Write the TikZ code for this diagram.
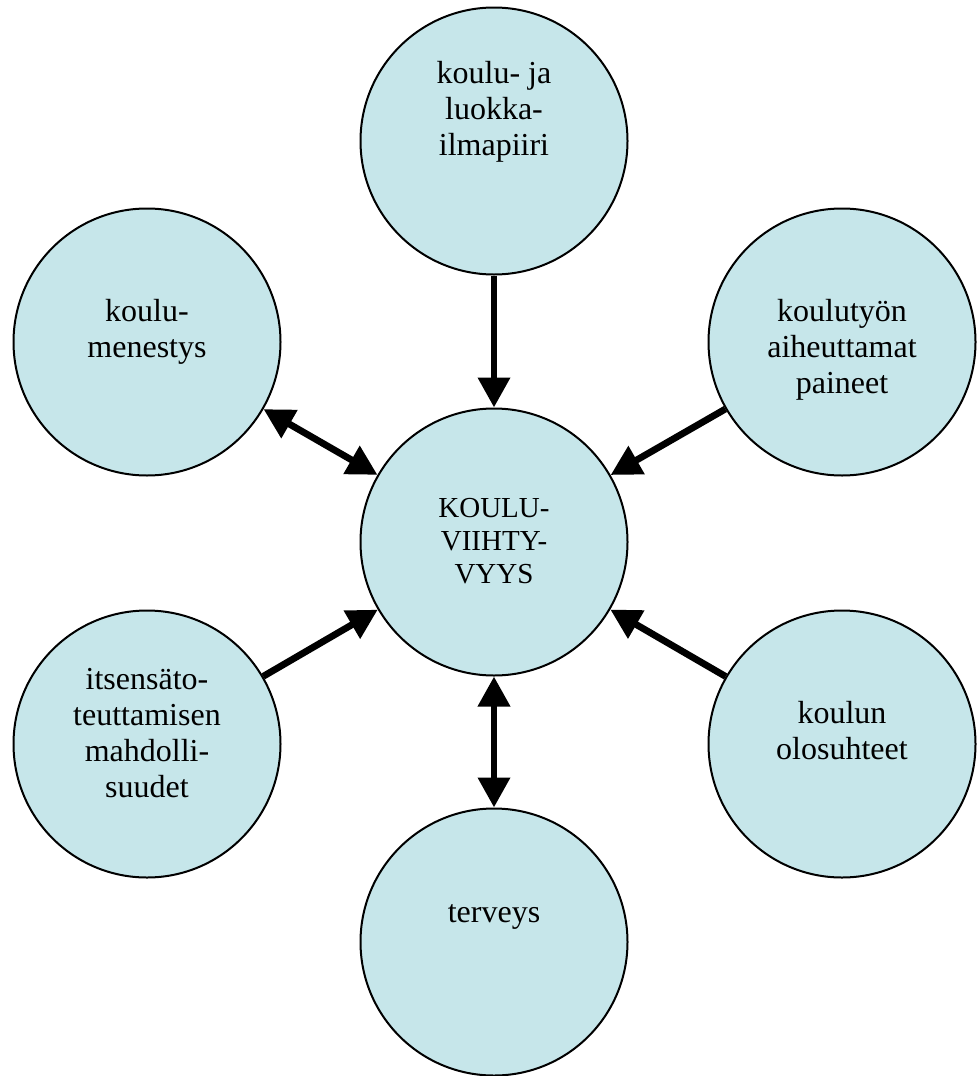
\documentclass[tikz,border=0pt]{standalone}
\usepackage{fontspec}
\setmainfont{Liberation Serif}
\usetikzlibrary{arrows.meta}
\definecolor{bubble}{RGB}{198,230,234}
\begin{document}
\begin{tikzpicture}[x=0.5pt,y=-0.5pt,
  bub/.style={circle,draw=black,line width=1pt,fill=bubble,inner sep=0pt,minimum size=133.5pt},
  lbl/.style={align=center,anchor=base,inner sep=0pt,font=\fontsize{16}{18}\selectfont},
  lblc/.style={align=center,anchor=base,inner sep=0pt,font=\fontsize{14.5}{16.5}\selectfont},
  con/.style={line width=3.4pt,-{Triangle[length=15pt,width=15.5pt]}},
  dcon/.style={line width=3.4pt,{Triangle[length=15pt,width=15.5pt]}-{Triangle[length=15pt,width=15.5pt]}}]
\useasboundingbox (0,0) rectangle (977,1076);
\node[bub] (top) at (494,141) {};
\node[bub] (lu) at (147,342) {};
\node[bub] (ru) at (842,342) {};
\node[bub] (c) at (494,542) {};
\node[bub] (ld) at (147,744) {};
\node[bub] (rd) at (842,744) {};
\node[bub] (bot) at (494,942) {};
\node[lbl] (ttop) at (494,155) {koulu- ja\\luokka-\\ilmapiiri};
\node[lbl] (tlu) at (147,357) {koulu-\\menestys};
\node[lbl] (tru) at (842,393) {koulutyön\\aiheuttamat\\paineet};
\node[lblc] (tc) at (494,583) {KOULU-\\VIIHTY-\\VYYS};
\node[lbl] (tld) at (147,797) {itsensäto-\\teuttamisen\\mahdolli-\\suudet};
\node[lbl] (trd) at (842,759) {koulun\\olosuhteet};
\node[lbl] (tbot) at (494,922) {terveys};
\draw[con] (top) -- (c);
\draw[con] (ru) -- (c);
\draw[con] (rd) -- (c);
\draw[con] (ld) -- (c);
\draw[dcon] (lu) -- (c);
\draw[dcon] (c) -- (bot);
\end{tikzpicture}
\end{document}
